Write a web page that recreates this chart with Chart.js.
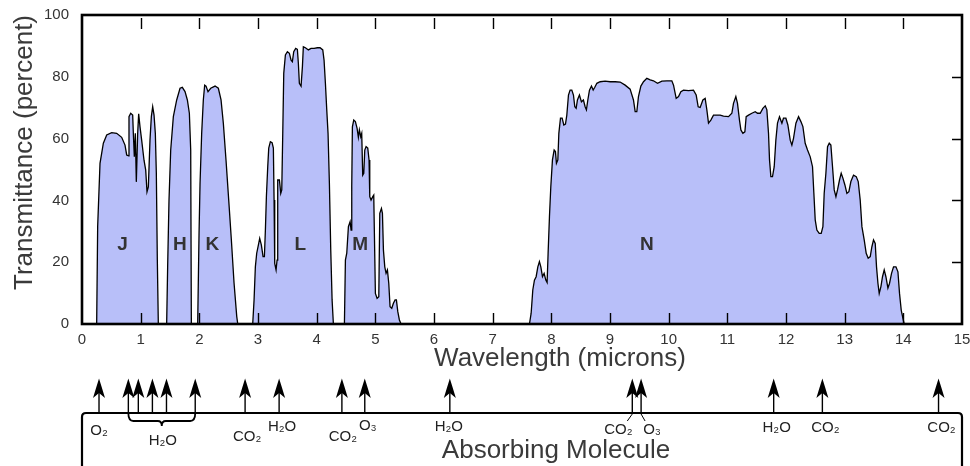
<!DOCTYPE html>
<html><head><meta charset="utf-8">
<script src="https://cdn.jsdelivr.net/npm/chart.js@4.4.1/dist/chart.umd.min.js"></script>
<style>html,body{margin:0;padding:0;background:#fff;}#wrap{width:970px;height:466px;position:relative;}</style>
</head><body><div id="wrap"><canvas id="c"></canvas></div>
<script>
// ---- data ----
const wavelength = [0,0.25,
0.267,0.307,0.364,0.421,0.506,0.591,0.676,0.733,0.762,0.796,0.801,0.830,0.864,0.875,0.892,0.909,0.926,0.949,0.966,0.989,1.017,1.057,1.086,1.108,1.131,1.159,1.182,1.205,1.228,1.250,1.267,1.284,1.301,
1.443,1.460,1.483,1.512,1.557,1.614,1.671,1.710,1.756,1.796,1.830,1.853,1.864,
1.972,1.995,2.012,2.040,2.068,2.091,2.114,2.148,2.194,2.268,2.324,2.370,2.409,2.455,2.501,2.546,2.592,2.638,2.655,
2.910,2.933,2.955,2.978,3.007,3.029,3.057,3.086,3.109,3.126,3.143,3.166,3.183,3.211,3.240,3.262,3.274,3.285,3.308,3.325,3.336,3.365,3.388,3.405,3.422,3.439,3.467,3.501,3.535,3.564,3.586,3.609,3.643,3.671,3.688,3.705,3.734,3.757,3.773,3.808,3.859,3.904,3.956,4.012,4.058,4.104,4.126,4.149,4.172,4.194,4.217,4.240,4.263,4.285,
4.473,4.490,4.513,4.541,4.570,4.587,4.598,4.609,4.632,4.660,4.689,4.711,4.728,4.751,4.768,4.785,4.803,4.820,4.842,4.871,4.893,4.905,4.927,4.956,4.973,4.984,5.001,5.030,5.059,5.076,5.104,5.121,5.138,5.161,5.183,5.206,5.229,5.251,5.280,5.308,5.337,5.359,5.383,5.410,5.439,
7.627,7.656,7.684,7.712,7.741,7.770,7.797,7.821,7.849,7.877,7.906,7.928,7.945,7.968,7.991,8.019,8.048,8.070,8.087,8.111,8.128,8.156,8.184,8.213,8.241,8.264,8.292,8.320,8.349,8.377,8.400,8.423,8.445,8.479,8.513,8.547,8.576,8.598,8.622,8.650,8.684,8.713,8.741,8.776,8.832,8.917,9.003,9.088,9.173,9.258,9.343,9.400,9.429,9.457,9.485,9.526,9.571,9.628,9.685,9.741,9.810,9.884,9.969,10.054,10.083,10.128,10.168,10.208,10.253,10.338,10.423,10.469,10.503,10.537,10.583,10.622,10.651,10.679,10.719,10.764,10.821,10.878,10.935,11.020,11.077,11.105,11.145,11.173,11.207,11.231,11.265,11.299,11.321,11.361,11.418,11.475,11.515,11.560,11.606,11.646,11.674,11.702,11.719,11.742,11.770,11.799,11.827,11.855,11.889,11.930,11.957,11.998,12.032,12.072,12.100,12.128,12.169,12.214,12.254,12.288,12.327,12.367,12.413,12.452,12.475,12.498,12.526,12.566,12.600,12.629,12.651,12.680,12.708,12.737,12.765,12.793,12.822,12.851,12.878,12.912,12.941,12.970,13.004,13.038,13.072,13.106,13.151,13.197,13.231,13.265,13.294,13.333,13.367,13.401,13.436,13.464,13.492,13.521,13.543,13.567,13.589,13.618,13.645,13.674,13.703,13.737,13.765,13.799,13.833,13.874,13.908,13.935,13.964,13.993,14.015,15];
const transmittance = [0,0,
31.5,52,58.5,61.2,61.9,61.7,60.4,57.9,54.7,54.4,67.1,68.2,67.6,61.7,54.1,61.7,46,61.7,68,63.8,59.5,53,49.8,42.8,44.4,59.5,67.1,70.3,67.6,61.7,48.8,20.7,0,
0,18.5,40.1,56.3,67.1,72.5,76.3,76.6,75.2,72.5,68.2,56.3,0,
0,29.3,45.5,61.7,72.5,77.3,77,75.2,76.3,77,76.3,72.5,65,53,40.1,27.2,13.2,2.4,0,
0,7.8,18.5,22.9,25.6,27.7,25.6,21.8,21.8,30.4,41.2,50.9,56.9,59,58.7,56.9,40.1,19.6,17.5,20.7,46.6,46.6,42.3,43.4,61.7,81.1,87.1,88.1,87.6,85.4,84.9,88.1,89.2,88.9,84.4,77.9,77,83.3,89.7,89.4,88.7,89.2,89.2,89.4,89.4,88.7,85.4,77.9,69.3,61.7,45.5,24,7.8,0,
0,20.7,22.9,31.5,33.1,30.4,44.4,63.8,66,65.5,63.3,60.4,62.8,60.6,61.7,48.2,48.8,56.3,57.4,56.9,53.1,41.2,40.1,41.2,41.7,29.3,9.9,8.3,8.8,35.8,37.4,35.8,23.9,18.5,16.4,17.5,13.2,5.6,5.1,6.7,7.8,7.8,4,1.3,0,
0,3.5,11,14.2,15.3,18.5,20.2,18.5,15.3,16.4,14.2,13.4,22.9,34.7,44.4,53.1,56.3,55.8,52,53.1,61.7,66.6,66.6,64.4,64.7,67.6,74.1,75.7,75.7,74.1,70.3,69.8,72.5,74.1,71.9,72.5,70.3,69.3,72.5,75.7,77,75.7,76.6,77.9,78.4,78.6,78.4,78.4,78.3,77.3,76,72.5,68.7,68.7,73.6,77,78.4,79.5,79,78.7,77.9,78.6,78.7,78.7,77.3,73,73.6,75.2,75.7,75.5,75.7,74.1,70.3,70.1,72.5,73,69.3,65,66,67.6,67.6,67.6,67.3,67.1,68.2,71.4,73.6,71.4,66,62.8,61.7,62.2,67.1,67.6,68.2,68.7,68.2,68.2,69.8,70.6,69.3,61.7,53.1,47.7,47.7,50.9,59.5,65,67.1,65,66.6,66.6,64.4,59.5,57.9,60.1,65,67.1,65.5,63.9,58.5,56.3,54.1,50.9,42.3,33.7,30.4,29.3,29.3,31.5,42.3,48.8,57.4,58.5,57.9,50.9,43.4,41.2,43.4,46.6,48.8,47.2,45,42.3,42.8,46.1,48.2,47.7,46.1,40.1,31.5,27.2,22.9,21.3,21.8,25,27.2,26.1,18.5,13.2,9.9,12.1,15.3,17.5,15.3,11.6,13.2,16.4,18.5,18.5,16.9,9.9,4.5,1.8,0,0];

const xTickValues = [0,1,2,3,4,5,6,7,8,9,10,11,12,13,14,15];
const yTickValues = [0,20,40,60,80,100];
const bandNames = ['J','H','K','L','M','N'];
const bandCenters = [0.69,1.67,2.22,3.72,4.74,9.63];
const bandLabelLevel = 25.6;
const absorberWavelengths = [0.29,0.79,0.96,1.20,1.44,1.93,2.78,3.36,4.43,4.82,6.27,9.38,9.53,11.79,12.62,14.60];
const absorberMolecules = ['O₂','H₂O','H₂O','H₂O','H₂O','H₂O','CO₂','H₂O','CO₂','O₃','H₂O','CO₂','O₃','H₂O','CO₂','CO₂'];
const groupedAbsorbers = [1,2,3,4,5];
const xTitle = 'Wavelength (microns)';
const yTitle = 'Transmittance (percent)';
const lowerTitle = 'Absorbing Molecule';

// ---- layout (pixels, not data) ----
const labelLayout = [[0,18],null,null,null,null,null,[2,24],[3,14],[1,24],[3,13],[-1,14],[-14,17],[11,17],[3,15],[3,15],[3,15]];
const boxTop = 413;

const points = wavelength.map((w,i)=>({x:w,y:transmittance[i]}));
const FONT = '"Liberation Sans", Arial, "DejaVu Sans", sans-serif';

const decor = {
  id:'decor',
  afterDatasetsDraw(chart){
    const {ctx, chartArea:a, scales:{x,y}} = chart;
    ctx.save();
    ctx.strokeStyle='#000';
    ctx.lineWidth=1.4;
    ctx.beginPath();
    xTickValues.forEach(v=>{
      if(v<=0||v>=15) return;
      const px=Math.round(x.getPixelForValue(v))+0.5;
      ctx.moveTo(px,a.top+3); ctx.lineTo(px,a.top+14);
      ctx.moveTo(px,a.bottom); ctx.lineTo(px,a.bottom-11);
    });
    yTickValues.forEach(v=>{
      if(v<=0||v>=100) return;
      const py=Math.round(y.getPixelForValue(v))+0.5;
      ctx.moveTo(a.right,py); ctx.lineTo(a.right-10,py);
    });
    ctx.stroke();
    ctx.lineWidth=2.6;
    ctx.strokeRect(a.left,a.top,a.right-a.left,a.bottom-a.top);
    // band labels
    ctx.fillStyle='#333';
    ctx.font='bold 19px '+FONT;
    ctx.textAlign='center'; ctx.textBaseline='middle';
    bandNames.forEach((n,i)=>{
      ctx.fillText(n, x.getPixelForValue(bandCenters[i]), y.getPixelForValue(bandLabelLevel));
    });
    ctx.restore();
  },
  afterDraw(chart){
    const {ctx, chartArea:a, scales:{x}} = chart;
    ctx.save();
    const cx=(a.left+a.right)/2;
    ctx.fillStyle='#3a3a3a';
    ctx.font='26px '+FONT;
    ctx.textAlign='center'; ctx.textBaseline='alphabetic';
    ctx.fillText(xTitle, cx+38, 366);
    ctx.fillText(lowerTitle, cx+34, 458);
    ctx.save();
    ctx.translate(32,(a.top+a.bottom)/2-17);
    ctx.rotate(-Math.PI/2);
    ctx.fillText(yTitle,0,0);
    ctx.restore();
    // lower box
    ctx.strokeStyle='#000'; ctx.lineWidth=2.2;
    ctx.beginPath();
    ctx.moveTo(a.left,chart.height+5);
    ctx.lineTo(a.left,boxTop+4);
    ctx.quadraticCurveTo(a.left,boxTop,a.left+4,boxTop);
    ctx.lineTo(a.right-4,boxTop);
    ctx.quadraticCurveTo(a.right,boxTop,a.right,boxTop+4);
    ctx.lineTo(a.right,chart.height+5);
    ctx.stroke();
    // arrows
    ctx.fillStyle='#000'; ctx.lineWidth=1.4;
    const px = absorberWavelengths.map(w=>x.getPixelForValue(w));
    px.forEach(p=>{
      ctx.beginPath(); ctx.moveTo(p,boxTop); ctx.lineTo(p,392); ctx.stroke();
      ctx.beginPath();
      ctx.moveTo(p,378.5);
      ctx.quadraticCurveTo(p-3,388,p-6,398);
      ctx.lineTo(p,393);
      ctx.lineTo(p+6,398);
      ctx.quadraticCurveTo(p+3,388,p,378.5);
      ctx.fill();
    });
    // brace for grouped absorbers
    const g0=px[groupedAbsorbers[0]], g1=px[groupedAbsorbers[groupedAbsorbers.length-1]];
    const gc=(g0+g1)/2;
    ctx.lineWidth=1.8;
    ctx.beginPath();
    ctx.moveTo(g0,boxTop);
    ctx.quadraticCurveTo(g0,boxTop+8,g0+5,boxTop+8);
    ctx.lineTo(gc-4,boxTop+8);
    ctx.quadraticCurveTo(gc,boxTop+8,gc,boxTop+13);
    ctx.quadraticCurveTo(gc,boxTop+8,gc+4,boxTop+8);
    ctx.lineTo(g1-5,boxTop+8);
    ctx.quadraticCurveTo(g1,boxTop+8,g1,boxTop);
    ctx.stroke();
    // small connectors
    ctx.lineWidth=1;
    ctx.beginPath();
    ctx.moveTo(px[11],boxTop+1); ctx.lineTo(px[11]-5,boxTop+8);
    ctx.moveTo(px[12],boxTop+1); ctx.lineTo(px[12]+4,boxTop+8);
    ctx.stroke();
    // labels
    ctx.fillStyle='#222';
    ctx.font='15px '+FONT;
    ctx.textAlign='center'; ctx.textBaseline='middle';
    absorberMolecules.forEach((m,i)=>{
      const l=labelLayout[i];
      if(!l) return;
      ctx.fillText(m, px[i]+l[0], boxTop+l[1]);
    });
    ctx.fillText(absorberMolecules[groupedAbsorbers[0]], gc+1, boxTop+28);
    ctx.restore();
  }
};

new Chart(document.getElementById('c'),{
  type:'line',
  data:{datasets:[{
    data:points,
    borderColor:'#000',
    borderWidth:1.3,
    backgroundColor:'#b8bff9',
    fill:'origin',
    pointRadius:0,
    tension:0
  }]},
  options:{
    responsive:true, maintainAspectRatio:false, animation:false,
    layout:{padding:{left:0,top:15,right:8,bottom:112}},
    plugins:{legend:{display:false},tooltip:{enabled:false}},
    scales:{
      x:{type:'linear',min:0,max:15,
        afterBuildTicks:s=>{s.ticks=xTickValues.map(v=>({value:v}));},
        afterFit:s=>{s.height=30; s.paddingLeft=0; s.paddingRight=0;},
        grid:{display:false,drawTicks:false},border:{display:false},
        ticks:{padding:7,color:'#333',font:{size:15,family:FONT},maxRotation:0,autoSkip:false}},
      y:{min:0,max:100,
        afterBuildTicks:s=>{s.ticks=yTickValues.map(v=>({value:v}));},
        afterFit:s=>{s.width=82; s.paddingTop=0; s.paddingBottom=0;},
        grid:{display:false,drawTicks:false},border:{display:false},
        ticks:{padding:13,color:'#333',font:{size:15,family:FONT}}}
    }
  },
  plugins:[decor]
});
</script></body></html>
